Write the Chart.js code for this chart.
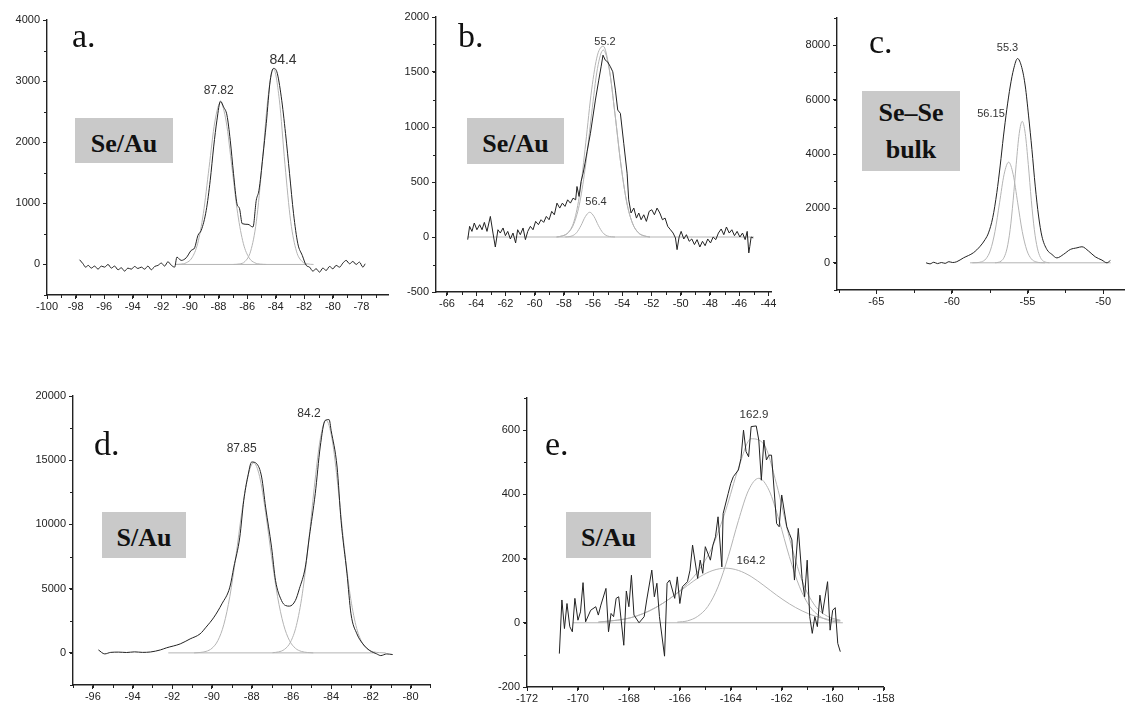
<!DOCTYPE html>
<html>
<head>
<meta charset="utf-8">
<script src="https://cdn.jsdelivr.net/npm/chart.js@4.4.0/dist/chart.umd.min.js"></script>
<style>
  html, body { margin: 0; padding: 0; background: #fff; width: 1125px; height: 706px; overflow: hidden; }
  .panel { position: absolute; }
  .panel canvas { display: block; }
  .lbl { position: absolute; font-family: "Liberation Sans", Arial, sans-serif; color: #333; line-height: 1; white-space: nowrap; transform: translateX(-50%); }
  .letter { position: absolute; font-family: "Liberation Serif", "Times New Roman", serif; font-size: 34px; line-height: 1; color: #111; }
  .tag { position: absolute; background: #c9c9c9; display: flex; align-items: center; justify-content: center; text-align: center;
         font-family: "Liberation Serif", "Times New Roman", serif; font-weight: bold; font-size: 26px; line-height: 37px; color: #111; box-sizing: border-box; }
</style>
</head>
<body>
<div id="stage"></div>
<script>
// --- panel a: Se/Au, Au 4f ---
const aXTicks = [-100, -98, -96, -94, -92, -90, -88, -86, -84, -82, -80, -78];
const aYTicks = [0, 1000, 2000, 3000, 4000];
const aSpectrum = [
  [-97.72, 77], [-97.48, 11], [-97.30, -44], [-97.11, -16], [-96.90, -60], [-96.67, -27], [-96.43, -77], [-96.20, -27],
  [-95.97, -44], [-95.73, 0], [-95.50, -60], [-95.27, -27], [-95.03, -87], [-94.80, -55], [-94.57, -109], [-94.34, -60],
  [-94.10, -77], [-93.87, -33], [-93.64, -66], [-93.40, -44], [-93.17, -77], [-92.94, -27], [-92.70, -87], [-92.47, -33],
  [-92.24, -16], [-92.00, 22], [-91.77, -27], [-91.54, 44], [-91.31, -11], [-91.07, -44], [-90.91, 120], [-90.61, 66],
  [-90.26, 109], [-89.91, 230], [-89.67, 273], [-89.44, 475], [-89.21, 557], [-88.86, 885], [-88.58, 1377], [-88.34, 1923],
  [-88.11, 2361], [-87.86, 2672], [-87.65, 2579], [-87.41, 2443], [-87.18, 2033], [-86.95, 1486], [-86.71, 995], [-86.53, 913],
  [-86.34, 667], [-85.94, 656], [-85.59, 612], [-85.36, 1049], [-85.17, 1213], [-84.90, 1760], [-84.66, 2306], [-84.38, 3016],
  [-84.15, 3208], [-83.92, 3153], [-83.61, 2743], [-83.31, 2142], [-83.03, 1486], [-82.75, 831], [-82.45, 339], [-82.14, 148],
  [-81.86, -16], [-81.63, -44], [-81.40, -109], [-81.17, -71], [-80.93, -126], [-80.70, -60], [-80.47, -98], [-80.23, -33],
  [-80.00, -71], [-79.77, -16], [-79.53, -44], [-79.30, 22], [-79.07, 66], [-78.83, 11], [-78.60, 49], [-78.37, 0],
  [-78.14, 38], [-77.90, -44], [-77.74, 11]
];
const aFitLow = [
  [-91.0, 0], [-90.66, 5], [-90.26, 27], [-89.86, 108], [-89.46, 341], [-89.06, 836], [-88.66, 1587], [-88.26, 2332],
  [-87.86, 2650], [-87.46, 2332], [-87.06, 1587], [-86.66, 836], [-86.26, 341], [-85.86, 108], [-85.46, 27], [-85.06, 5], [-84.66, 0]
];
const aFitHigh = [
  [-86.95, 0], [-86.55, 8], [-86.15, 48], [-85.75, 218], [-85.35, 705], [-84.95, 1634], [-84.55, 2705], [-84.15, 3200],
  [-83.75, 2705], [-83.35, 1634], [-82.95, 705], [-82.55, 218], [-82.15, 48], [-81.75, 8], [-81.35, 0]
];
const aBase = [[-91.0, 0], [-81.8, 0]];

// --- panel b: Se/Au, Se 3d ---
const bXTicks = [-66, -64, -62, -60, -58, -56, -54, -52, -50, -48, -46, -44];
const bYTicks = [-500, 0, 500, 1000, 1500, 2000];
const bSpectrum = [
  [-64.58, -24], [-64.45, 97], [-64.29, 51], [-64.13, 127], [-63.95, 66], [-63.76, 112], [-63.60, 66], [-63.44, 133],
  [-63.26, 51], [-63.03, 187], [-62.85, 36], [-62.69, -91], [-62.51, 66], [-62.35, 36], [-62.16, 82], [-62.00, 12],
  [-61.84, 51], [-61.66, -18], [-61.48, 36], [-61.30, -54], [-61.16, 66], [-60.98, 21], [-60.79, 82], [-60.63, -24],
  [-60.47, 51], [-60.29, 97], [-60.11, 66], [-59.93, 142], [-59.74, 112], [-59.56, 157], [-59.38, 133], [-59.20, 187],
  [-59.01, 157], [-58.83, 233], [-58.65, 202], [-58.47, 308], [-58.28, 263], [-58.10, 308], [-57.92, 278], [-57.74, 338],
  [-57.55, 308], [-57.37, 353], [-57.19, 338], [-57.10, 459], [-56.96, 369], [-56.82, 505], [-56.68, 580], [-56.55, 671],
  [-56.41, 776], [-56.18, 943], [-55.84, 1245], [-55.61, 1426], [-55.45, 1547], [-55.32, 1653], [-55.16, 1607], [-55.00, 1592],
  [-54.81, 1547], [-54.65, 1502], [-54.47, 1335], [-54.31, 1154], [-54.13, 1124], [-53.90, 852], [-53.67, 580], [-53.56, 338],
  [-53.40, 218], [-53.21, 263], [-53.03, 172], [-52.87, 218], [-52.71, 157], [-52.53, 202], [-52.35, 142], [-52.16, 233],
  [-51.98, 248], [-51.80, 202], [-51.62, 263], [-51.43, 218], [-51.25, 157], [-51.07, 172], [-50.89, 97], [-50.70, 66],
  [-50.52, 36], [-50.36, -9], [-50.25, -115], [-50.11, 0], [-49.97, 51], [-49.79, -18], [-49.61, 21], [-49.42, -39],
  [-49.24, -18], [-49.06, -69], [-48.88, -24], [-48.69, -91], [-48.51, -39], [-48.33, -79], [-48.15, -18], [-47.96, -54],
  [-47.78, 0], [-47.60, -24], [-47.42, 36], [-47.23, 73], [-47.05, 21], [-46.87, 91], [-46.68, 36], [-46.50, 66],
  [-46.32, 12], [-46.14, 51], [-45.95, 0], [-45.77, 36], [-45.59, -24], [-45.45, 51], [-45.34, -145], [-45.27, -85],
  [-45.18, 0], [-45.04, -9]
];
const bFitMain = [
  [-58.5, 0], [-58.1, 10], [-57.7, 39], [-57.3, 125], [-56.9, 319], [-56.5, 664], [-56.1, 1119], [-55.7, 1531], [-55.3, 1700],
  [-54.9, 1531], [-54.5, 1119], [-54.1, 664], [-53.7, 319], [-53.3, 125], [-52.9, 39], [-52.5, 10], [-52.1, 0]
];
const bFitMinor = [
  [-57.9, 0], [-57.73, 2], [-57.43, 10], [-57.13, 39], [-56.83, 103], [-56.53, 185], [-56.23, 225], [-55.93, 185],
  [-55.63, 103], [-55.33, 39], [-55.03, 10], [-54.73, 2], [-54.5, 0]
];
const bFitSum = [
  [-58.5, 0], [-58.1, 10], [-57.7, 41], [-57.3, 144], [-56.9, 404], [-56.5, 856], [-56.1, 1336], [-55.7, 1653], [-55.3, 1734],
  [-54.9, 1536], [-54.5, 1119], [-54.1, 664], [-53.7, 319], [-53.3, 125], [-52.9, 39], [-52.5, 10], [-52.1, 0]
];
const bBase = [[-64.6, 0], [-45.0, 0]];

// --- panel c: Se-Se bulk ---
const cXTicks = [-65, -60, -55, -50];
const cYTicks = [0, 2000, 4000, 6000, 8000];
const cSpectrum = [
  [-61.71, 0], [-61.45, -40], [-61.2, 20], [-60.95, -30], [-60.7, 10], [-60.45, -20], [-60.2, 40], [-59.95, 10],
  [-59.68, 40], [-59.24, 180], [-58.58, 370], [-58.13, 610], [-57.80, 860], [-57.58, 1100], [-57.30, 1660], [-57.03, 2580],
  [-56.81, 3560], [-56.59, 4660], [-56.37, 5640], [-56.14, 6500], [-55.92, 7120], [-55.66, 7510], [-55.38, 7180],
  [-55.15, 6500], [-54.93, 5400], [-54.71, 4170], [-54.49, 2820], [-54.27, 1720], [-54.05, 980], [-53.72, 490],
  [-53.39, 310], [-53.06, 180], [-52.62, 310], [-52.17, 490], [-51.73, 550], [-51.40, 590], [-50.96, 430], [-50.52, 220],
  [-50.08, 100], [-49.75, 0], [-49.52, 85]
];
const cFitA = [
  [-57.15, 0], [-56.95, 16], [-56.75, 61], [-56.55, 200], [-56.35, 540], [-56.15, 1220], [-55.95, 2300], [-55.75, 3620],
  [-55.55, 4750], [-55.35, 5200], [-55.15, 4750], [-54.95, 3620], [-54.75, 2300], [-54.55, 1220], [-54.35, 540],
  [-54.15, 200], [-53.95, 61], [-53.75, 16], [-53.55, 0]
];
const cFitB = [
  [-58.65, 0], [-58.35, 7], [-58.05, 35], [-57.75, 146], [-57.45, 467], [-57.15, 1155], [-56.85, 2205], [-56.55, 3250],
  [-56.25, 3700], [-55.95, 3250], [-55.65, 2205], [-55.35, 1155], [-55.05, 467], [-54.75, 146], [-54.45, 35], [-54.15, 7], [-53.85, 0]
];
const cBase = [[-58.8, 0], [-49.5, 0]];

// --- panel d: S/Au, Au 4f ---
const dXTicks = [-96, -94, -92, -90, -88, -86, -84, -82, -80];
const dYTicks = [0, 5000, 10000, 15000, 20000];
const dSpectrum = [
  [-95.72, 230], [-95.4, -80], [-95.1, 40], [-94.7, 60], [-94.3, 30], [-93.9, 80], [-93.5, 40], [-93.1, 70], [-92.6, 230],
  [-92.3, 390], [-91.6, 700], [-91.1, 1090], [-90.6, 1480], [-90.3, 2000], [-89.9, 2780], [-89.5, 3820], [-89.1, 5120],
  [-88.9, 6680], [-88.6, 9010], [-88.4, 11870], [-88.2, 13690], [-88.0, 14860], [-87.75, 14730], [-87.5, 13690],
  [-87.3, 11350], [-87.0, 8230], [-86.8, 5640], [-86.5, 4080], [-86.3, 3690], [-86.1, 3640], [-85.8, 4080], [-85.6, 4990],
  [-85.3, 6680], [-85.1, 9010], [-84.8, 12390], [-84.55, 16030], [-84.3, 18100], [-84.1, 18160], [-84.0, 17320],
  [-83.7, 14470], [-83.5, 10310], [-83.2, 6160], [-83.0, 3040], [-82.7, 1480], [-82.4, 700], [-82.05, 180], [-81.7, -80],
  [-81.5, -210], [-81.2, -80], [-80.9, -130]
];
const dFitLow = [
  [-90.9, 0], [-90.6, 32], [-90.3, 116], [-90.0, 360], [-89.7, 970], [-89.4, 2230], [-89.1, 4400], [-88.8, 7480], [-88.5, 10930],
  [-88.2, 13720], [-87.9, 14800], [-87.6, 13720], [-87.3, 10930], [-87.0, 7480], [-86.7, 4400], [-86.4, 2230], [-86.1, 970],
  [-85.8, 360], [-85.5, 116], [-85.2, 32], [-84.9, 0]
];
const dFitHigh = [
  [-86.95, 18], [-86.65, 76], [-86.35, 273], [-86.05, 830], [-85.75, 2130], [-85.45, 4600], [-85.15, 8380], [-84.85, 12860],
  [-84.55, 16620], [-84.25, 18100], [-83.95, 16620], [-83.65, 12860], [-83.35, 8380], [-83.05, 4600], [-82.75, 2130],
  [-82.45, 830], [-82.15, 273], [-81.85, 76], [-81.55, 18], [-81.25, 0]
];
const dBase = [[-92.2, 0], [-81.8, 0]];

// --- panel e: S/Au, S 2p ---
const eXTicks = [-172, -170, -168, -166, -164, -162, -160, -158];
const eYTicks = [-200, 0, 200, 400, 600];
const eSpectrum = [
  [-170.73, -96], [-170.63, 71], [-170.53, -18], [-170.43, 60], [-170.32, -12], [-170.22, -28], [-170.12, 76], [-170.0, 8],
  [-169.9, 34], [-169.8, 125], [-169.7, 3], [-169.5, 39], [-169.3, 50], [-169.2, 24], [-169.1, 55], [-168.9, 107],
  [-168.8, -28], [-168.7, 29], [-168.6, 19], [-168.5, 76], [-168.4, 81], [-168.2, -70], [-168.1, 99], [-168.0, 50],
  [-167.9, 148], [-167.8, 24], [-167.6, 0], [-167.4, 19], [-167.3, 71], [-167.1, 164], [-167.0, 81], [-166.9, 123],
  [-166.8, 19], [-166.6, -104], [-166.5, 123], [-166.4, 133], [-166.2, 76], [-166.1, 143], [-166.0, 60], [-165.9, 112],
  [-165.7, 128], [-165.6, 164], [-165.5, 242], [-165.3, 138], [-165.2, 195], [-165.1, 154], [-165.0, 237], [-164.8, 195],
  [-164.7, 242], [-164.6, 268], [-164.5, 330], [-164.35, 174], [-164.3, 340], [-164.1, 403], [-164.0, 434], [-163.9, 455],
  [-163.7, 476], [-163.6, 512], [-163.5, 600], [-163.4, 533], [-163.3, 517], [-163.2, 611], [-163.0, 613], [-162.9, 569],
  [-162.8, 444], [-162.7, 569], [-162.6, 507], [-162.5, 522], [-162.4, 522], [-162.2, 309], [-162.1, 299], [-162.0, 398],
  [-161.8, 299], [-161.7, 278], [-161.6, 258], [-161.5, 133], [-161.35, 294], [-161.2, 138], [-161.1, 81], [-161.0, 195],
  [-160.9, 19], [-160.8, -33], [-160.7, 19], [-160.6, -12], [-160.5, 86], [-160.4, 29], [-160.2, 128], [-160.1, -23],
  [-160.0, 39], [-159.9, 47], [-159.8, -64], [-159.7, -90]
];
const eFitLow = [
  [-169.2, 2], [-168.7, 6], [-168.2, 11], [-167.7, 21], [-167.2, 37], [-166.7, 59], [-166.2, 86], [-165.7, 116], [-165.2, 144],
  [-164.7, 163], [-164.2, 170], [-163.7, 163], [-163.2, 144], [-162.7, 116], [-162.2, 86], [-161.7, 59], [-161.2, 37],
  [-160.7, 21], [-160.2, 11], [-159.7, 6]
];
const eFitHigh = [
  [-166.1, 2], [-165.7, 6], [-165.3, 20], [-164.9, 51], [-164.5, 112], [-164.1, 206], [-163.7, 318], [-163.3, 413], [-162.9, 450],
  [-162.5, 413], [-162.1, 318], [-161.7, 206], [-161.3, 112], [-160.9, 51], [-160.5, 20], [-160.1, 6], [-159.7, 2]
];
const eFitSum = [
  [-169.2, 2], [-168.7, 6], [-168.2, 11], [-167.7, 21], [-167.2, 37], [-166.7, 59], [-166.2, 87], [-165.7, 122], [-165.2, 170],
  [-164.7, 241], [-164.2, 350], [-163.7, 481], [-163.2, 573], [-162.7, 556], [-162.2, 431], [-161.7, 265], [-161.2, 131],
  [-160.7, 54], [-160.2, 20], [-159.7, 8]
];
const eBase = [[-170.2, 0], [-159.6, 0]];

const INK = '#222';
const FIT = '#b4b4b4';

// small ticks between the labelled ones
const minorTicks = {
  id: 'minorTicks',
  afterDraw(chart, args, opts) {
    const { ctx, scales: { x, y } } = chart;
    ctx.save();
    ctx.strokeStyle = INK;
    ctx.lineWidth = 1;
    ctx.beginPath();
    for (let v = Math.ceil(x.min / opts.x) * opts.x; v <= x.max + 1e-9; v += opts.x) {
      const px = Math.round(x.getPixelForValue(v)) + 0.5;
      ctx.moveTo(px, x.top); ctx.lineTo(px, x.top + 3);
    }
    for (let v = Math.ceil(y.min / opts.y) * opts.y; v <= y.max + 1e-9; v += opts.y) {
      const py = Math.round(y.getPixelForValue(v)) + 0.5;
      ctx.moveTo(y.right, py); ctx.lineTo(y.right - 3, py);
    }
    ctx.stroke();
    ctx.restore();
  }
};

const pts = arr => arr.map(p => ({ x: p[0], y: p[1] }));
const spec = (arr, smooth) => ({ data: pts(arr), borderColor: INK, borderWidth: 1, pointRadius: 0,
  cubicInterpolationMode: smooth ? 'monotone' : 'default', tension: 0 });
const fit = arr => ({ data: pts(arr), borderColor: FIT, borderWidth: 1, pointRadius: 0, cubicInterpolationMode: 'monotone' });

function axis(min, max, ticks, isX, size) {
  return {
    type: 'linear', min: min, max: max,
    afterBuildTicks: s => { s.ticks = ticks.map(v => ({ value: v })); },
    afterFit: s => { if (isX) s.height = size; else s.width = size; },
    border: { display: true, color: INK, width: 1.4 },
    grid: { display: true, drawOnChartArea: false, drawTicks: true, tickLength: 4, tickColor: INK, tickWidth: 1 },
    ticks: {
      color: INK, padding: isX ? 1 : 3, autoSkip: false, maxRotation: 0, minRotation: 0,
      font: { family: "'Liberation Sans', Arial, sans-serif", size: 11 },
      callback: v => String(v)
    }
  };
}

function makePanel(p) {
  const YW = 50, XH = 24, PT = 10, PR = 16;
  const w = Math.round(YW + (p.R - p.L) + PR), h = Math.round(PT + (p.B - p.T) + XH);
  const wrap = document.createElement('div');
  wrap.className = 'panel';
  wrap.style.left = (p.L - YW) + 'px';
  wrap.style.top = (p.T - PT) + 'px';
  const cv = document.createElement('canvas');
  cv.width = w; cv.height = h;
  wrap.appendChild(cv);
  document.getElementById('stage').appendChild(wrap);
  new Chart(cv, {
    type: 'line',
    data: { datasets: p.series },
    options: {
      responsive: false, animation: false, events: [],
      layout: { padding: { top: PT, right: w - YW - (p.R - p.L), left: 0, bottom: 0 } },
      plugins: { legend: { display: false }, tooltip: { enabled: false }, minorTicks: p.minor },
      scales: {
        x: axis(p.x[0], p.x[1], p.xTicks, true, XH),
        y: axis(p.y[0], p.y[1], p.yTicks, false, YW)
      }
    },
    plugins: [minorTicks]
  });
}

makePanel({ L: 47.4, R: 389, T: 20, B: 295, x: [-100, -76.1], y: [-500, 4000], xTicks: aXTicks, yTicks: aYTicks,
  minor: { x: 1, y: 500 }, series: [spec(aSpectrum, true), fit(aFitLow), fit(aFitHigh), fit(aBase)] });
makePanel({ L: 435.7, R: 771, T: 16.7, B: 292, x: [-66.75, -43.8], y: [-500, 2000], xTicks: bXTicks, yTicks: bYTicks,
  minor: { x: 1, y: 250 }, series: [spec(bSpectrum, false), fit(bFitSum), fit(bFitMain), fit(bFitMinor), fit(bBase)] });
makePanel({ L: 836.7, R: 1124, T: 18.3, B: 290.7, x: [-67.6, -48.6], y: [-1000, 9000], xTicks: cXTicks, yTicks: cYTicks,
  minor: { x: 2.5, y: 1000 }, series: [spec(cSpectrum, true), fit(cFitA), fit(cFitB), fit(cBase)] });
makePanel({ L: 73.3, R: 430.7, T: 395.7, B: 684.3, x: [-97, -79], y: [-2500, 20000], xTicks: dXTicks, yTicks: dYTicks,
  minor: { x: 1, y: 2500 }, series: [spec(dSpectrum, true), fit(dFitLow), fit(dFitHigh), fit(dBase)] });
makePanel({ L: 526.7, R: 883.3, T: 398.3, B: 687.7, x: [-172, -158], y: [-200, 700], xTicks: eXTicks, yTicks: eYTicks,
  minor: { x: 1, y: 100 }, series: [spec(eSpectrum, false), fit(eFitSum), fit(eFitLow), fit(eFitHigh), fit(eBase)] });

// panel letters, sample tags and peak positions
const stage = document.getElementById('stage');
function put(cls, text, css) {
  const d = document.createElement('div');
  d.className = cls;
  d.innerHTML = text;
  Object.assign(d.style, css);
  stage.appendChild(d);
}
put('letter', 'a.', { left: '72px', top: '18.5px' });
put('letter', 'b.', { left: '458px', top: '18.5px' });
put('letter', 'c.', { left: '869px', top: '24.5px' });
put('letter', 'd.', { left: '94px', top: '426.5px' });
put('letter', 'e.', { left: '545px', top: '426.5px' });

put('tag', 'Se/Au', { left: '75px', top: '118px', width: '98px', height: '45px', paddingTop: '5px' });
put('tag', 'Se/Au', { left: '467px', top: '118px', width: '97px', height: '46px', paddingTop: '5px' });
put('tag', 'Se–Se<br>bulk', { left: '862px', top: '91px', width: '98px', height: '80px' });
put('tag', 'S/Au', { left: '102px', top: '512px', width: '84px', height: '46px', paddingTop: '5px' });
put('tag', 'S/Au', { left: '566px', top: '512px', width: '85px', height: '46px', paddingTop: '5px' });

put('lbl', '87.82', { left: '218.7px', top: '84px', fontSize: '12px' });
put('lbl', '84.4', { left: '283px', top: '51.5px', fontSize: '14px' });
put('lbl', '55.2', { left: '605px', top: '35.6px', fontSize: '11px' });
put('lbl', '56.4', { left: '596px', top: '195.6px', fontSize: '11px' });
put('lbl', '55.3', { left: '1007.5px', top: '42px', fontSize: '11px' });
put('lbl', '56.15', { left: '991px', top: '107.7px', fontSize: '11px' });
put('lbl', '87.85', { left: '241.7px', top: '441.5px', fontSize: '12px' });
put('lbl', '84.2', { left: '309px', top: '406.5px', fontSize: '12px' });
put('lbl', '162.9', { left: '754px', top: '409.2px', fontSize: '11.5px' });
put('lbl', '164.2', { left: '751px', top: '555.2px', fontSize: '11.5px' });
</script>
</body>
</html>
